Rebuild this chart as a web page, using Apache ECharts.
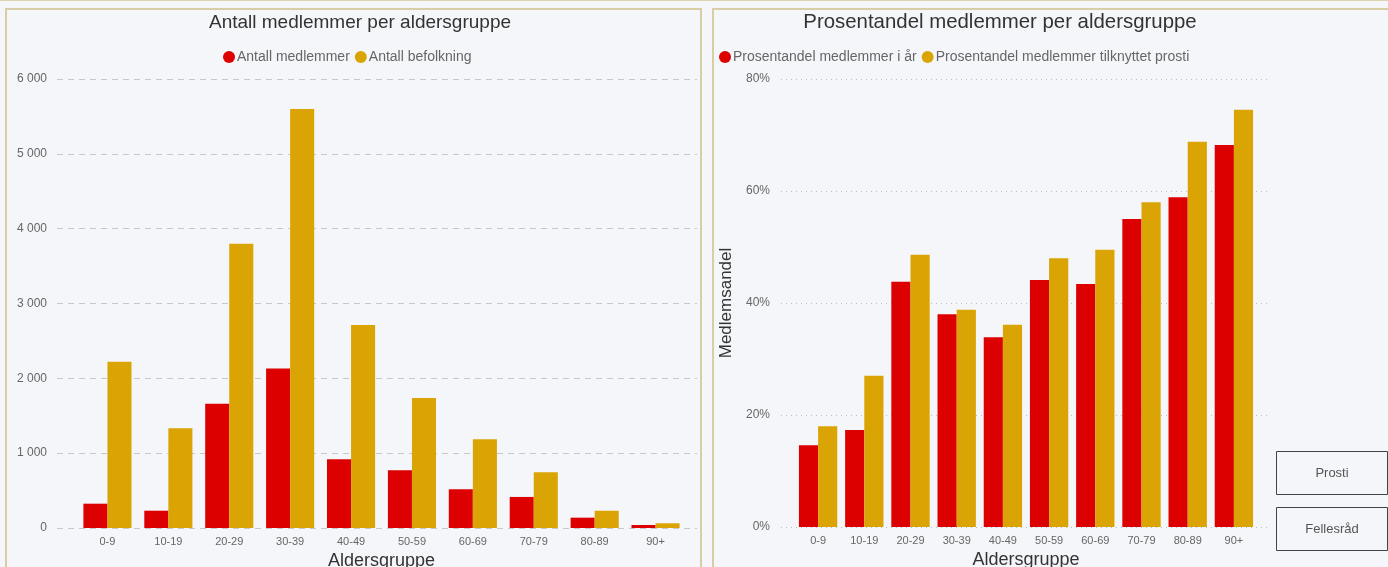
<!DOCTYPE html>
<html>
<head>
    <meta charset="utf-8">
    <title>medlemmer per aldersgruppe</title>
    <style>
        html, body { margin: 0; padding: 0; background: #f5f6fa; }
    </style>
</head>
<body>
<div id="main" style="width: 1388px; height: 567px;"></div>

<script src="https://cdn.jsdelivr.net/npm/echarts@6/dist/echarts.min.js"></script>
<script>
    var aldersgrupper = ['0-9', '10-19', '20-29', '30-39', '40-49', '50-59', '60-69', '70-79', '80-89', '90+'];

    // venstre graf
    var antallMedlemmer = [325, 231, 1660, 2130, 918, 771, 517, 415, 138, 40];
    var antallBefolkning = [2220, 1333, 3797, 5600, 2714, 1738, 1186, 745, 231, 63];

    // høyre graf (prosent)
    var prosentIAar = [14.6, 17.3, 43.8, 38.0, 33.9, 44.1, 43.4, 55.0, 58.9, 68.2];
    var prosentProsti = [18.0, 27.0, 48.6, 38.8, 36.1, 48.0, 49.5, 58.0, 68.8, 74.5];

    var knapper = ['Prosti', 'Fellesråd'];

    var rod = '#dc0000';
    var gul = '#d9a404';
    var font = 'Liberation Sans, Arial, sans-serif';

    var tusen = function (v) {
        return String(v).replace(/\B(?=(\d{3})+(?!\d))/g, ' ');
    };

    var myChart = echarts.init(document.getElementById('main'));

    var graphic = [
        { type: 'rect', shape: { x: 0, y: -1, width: 1388, height: 2 }, style: { fill: '#ddd3b0' }, z: -10 },
        { type: 'rect', shape: { x: 6, y: 9, width: 695, height: 570 }, style: { fill: '#f5f6fa', stroke: '#d9cda6', lineWidth: 2 }, z: -10 },
        { type: 'rect', shape: { x: 713, y: 9, width: 690, height: 570 }, style: { fill: '#f5f6fa', stroke: '#d9cda6', lineWidth: 2 }, z: -10 }
    ];
    for (var i = 0; i < knapper.length; i++) {
        graphic.push({
            type: 'group',
            left: 1276,
            top: 451 + i * 56,
            children: [
                { type: 'rect', shape: { x: 0, y: 0, width: 111, height: 43 }, style: { fill: '#f5f6fa', stroke: '#444', lineWidth: 1 } },
                { type: 'text', x: 55.5, y: 21.5, style: { text: knapper[i], fill: '#555', font: '13px ' + font, align: 'center', verticalAlign: 'middle' } }
            ]
        });
    }

    // søyleakse (uten synlige linjer)
    var kategoriAkse = function (idx) {
        return {
            type: 'category', gridIndex: idx, data: aldersgrupper,
            axisLine: { show: false }, axisTick: { show: false },
            axisLabel: { fontSize: 11, color: '#666', margin: 8 },
            name: 'Aldersgruppe', nameLocation: 'middle', nameGap: 17,
            nameTextStyle: { fontSize: 18, color: '#333' }
        };
    };

    var option = {
        backgroundColor: '#f5f6fa',
        textStyle: { fontFamily: font },
        animation: false,
        graphic: graphic,
        title: [
            {
                text: 'Antall medlemmer per aldersgruppe',
                left: 355, top: 8, textAlign: 'center',
                textStyle: { fontSize: 19, fontWeight: 'normal', color: '#333', fontFamily: font }
            },
            {
                text: 'Prosentandel medlemmer per aldersgruppe',
                left: 995, top: 7, textAlign: 'center',
                textStyle: { fontSize: 20.4, fontWeight: 'normal', color: '#333', fontFamily: font }
            }
        ],
        legend: [
            {
                data: ['Antall medlemmer', 'Antall befolkning'],
                left: 218, top: 45,
                icon: 'circle', itemWidth: 12, itemHeight: 12, itemGap: 5,
                textStyle: { fontSize: 14, color: '#666', padding: [0, 0, 0, -3] }
            },
            {
                data: ['Prosentandel medlemmer i år', 'Prosentandel medlemmer tilknyttet prosti'],
                left: 714, top: 45,
                icon: 'circle', itemWidth: 12, itemHeight: 12, itemGap: 5,
                textStyle: { fontSize: 14, color: '#666', padding: [0, 0, 0, -3] }
            }
        ],
        grid: [
            { left: 77, right: 702, top: 79, bottom: 39, outerBoundsMode: 'none' },
            { left: 795, right: 131, top: 79, bottom: 40, outerBoundsMode: 'none' },
            { left: 57, right: 691, top: 79, bottom: 39, outerBoundsMode: 'none' },
            { left: 781, right: 118, top: 79, bottom: 40, outerBoundsMode: 'none' }
        ],
        xAxis: [
            kategoriAkse(0),
            kategoriAkse(1),
            { type: 'value', gridIndex: 2, show: false, min: 0, max: 1 },
            { type: 'value', gridIndex: 3, show: false, min: 0, max: 1 }
        ],
        yAxis: [
            {
                type: 'value', gridIndex: 0, min: 0, max: 6000, interval: 1000,
                axisLine: { show: false }, axisTick: { show: false },
                axisLabel: { show: false }, splitLine: { show: false }
            },
            {
                type: 'value', gridIndex: 1, min: 0, max: 80, interval: 20,
                axisLine: { show: false }, axisTick: { show: false },
                axisLabel: { show: false }, splitLine: { show: false }
            },
            {
                type: 'value', gridIndex: 2, min: 0, max: 6000, interval: 1000,
                axisLine: { show: false }, axisTick: { show: false },
                axisLabel: { fontSize: 12, color: '#666', margin: 10, formatter: tusen },
                splitLine: { lineStyle: { type: [6, 5], color: '#c8c8c8', width: 1 } }
            },
            {
                type: 'value', gridIndex: 3, min: 0, max: 80, interval: 20,
                axisLine: { show: false }, axisTick: { show: false },
                axisLabel: { fontSize: 12, color: '#666', margin: 11, formatter: '{value}%' },
                splitLine: { lineStyle: { type: [1, 4], color: '#bbb', width: 1 } },
                name: 'Medlemsandel', nameLocation: 'middle', nameGap: 46, nameRotate: 90,
                nameTextStyle: { fontSize: 17, color: '#333' }
            }
        ],
        series: [
            {
                name: 'Antall medlemmer', type: 'bar', xAxisIndex: 0, yAxisIndex: 0,
                data: antallMedlemmer, itemStyle: { color: rod },
                barGap: '0%', barCategoryGap: '21%'
            },
            {
                name: 'Antall befolkning', type: 'bar', xAxisIndex: 0, yAxisIndex: 0,
                data: antallBefolkning, itemStyle: { color: gul },
                barGap: '0%', barCategoryGap: '21%'
            },
            {
                name: 'Prosentandel medlemmer i år', type: 'bar', xAxisIndex: 1, yAxisIndex: 1,
                data: prosentIAar, itemStyle: { color: rod },
                barGap: '0%', barCategoryGap: '17%'
            },
            {
                name: 'Prosentandel medlemmer tilknyttet prosti', type: 'bar', xAxisIndex: 1, yAxisIndex: 1,
                data: prosentProsti, itemStyle: { color: gul },
                barGap: '0%', barCategoryGap: '17%'
            }
        ]
    };

    myChart.setOption(option);
</script>
</body>
</html>
